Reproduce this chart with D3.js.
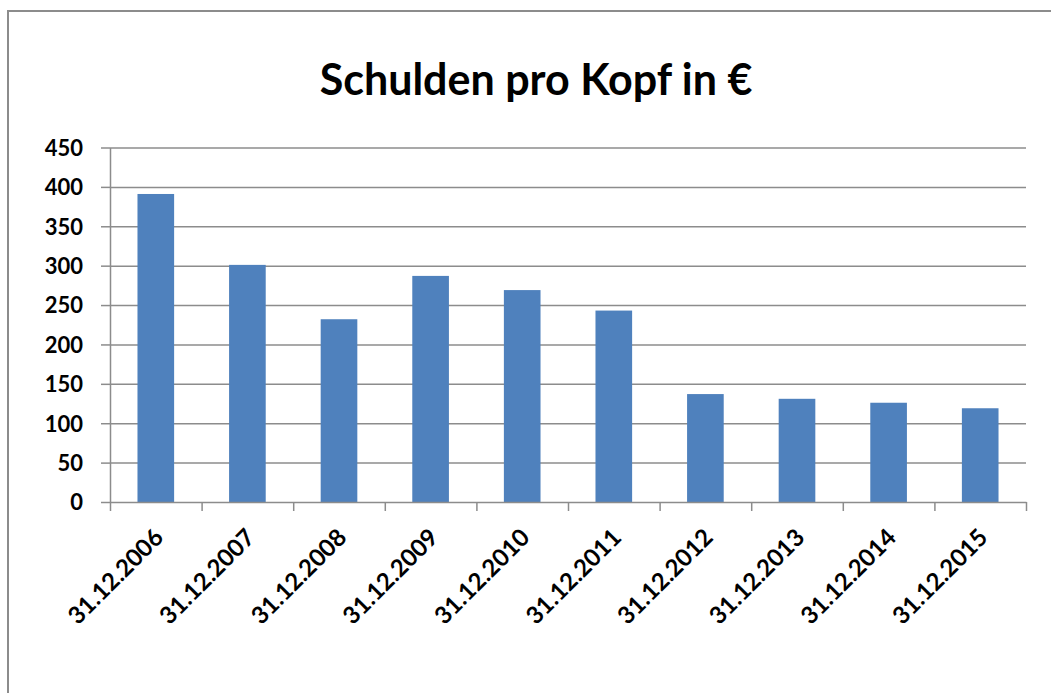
<!DOCTYPE html>
<html>
<head>
<meta charset="utf-8">
<script src="https://cdn.jsdelivr.net/npm/d3@7"></script>
<style>
  body { margin: 0; background: #fff; }
  svg { display: block; }
  .axis text { font-family: Lato, "Open Sans", sans-serif; font-weight: bold; font-size: 22px; fill: #000; }
  .axis .cat { font-size: 24px; }
  .axis path, .axis line { stroke: #8c8c8c; stroke-width: 1.5; }
  .grid line { stroke: #8c8c8c; stroke-width: 1.5; }
  .grid path { display: none; }
</style>
</head>
<body>
<script>
// data
const dates  = ["31.12.2006","31.12.2007","31.12.2008","31.12.2009","31.12.2010",
                "31.12.2011","31.12.2012","31.12.2013","31.12.2014","31.12.2015"];
const values = [391, 301, 232, 287, 269, 243, 137, 131, 126, 119];
const yTicks = [0, 50, 100, 150, 200, 250, 300, 350, 400, 450];
const title  = "Schulden pro Kopf in €";

const W = 1051, H = 693;
const margin = {left: 110, right: 25, top: 147.5, bottom: 191};
const width  = W - margin.left - margin.right;
const height = H - margin.top - margin.bottom;

const root = d3.select("body").append("svg")
    .attr("width", W)
    .attr("height", H);

// outer chart border (runs off the right and bottom edges)
root.append("rect")
    .attr("x", 8).attr("y", 11)
    .attr("width", 1100).attr("height", 800)
    .attr("fill", "#fff")
    .attr("stroke", "#8c8c8c")
    .attr("stroke-width", 2);

// title
root.append("text")
    .attr("x", 536).attr("y", 95)
    .attr("text-anchor", "middle")
    .style("font-family", "Lato, 'Open Sans', sans-serif")
    .style("font-weight", "bold")
    .style("font-size", "43px")
    .text(title);

const svg = root.append("g")
    .attr("transform", "translate(" + margin.left + "," + margin.top + ")");

// scales
const x = d3.scaleBand()
    .domain(dates)
    .range([0, width])
    .paddingInner(0.6)
    .paddingOuter(0.3);
const xEdges = d3.scaleLinear().domain([0, dates.length]).range([0, width]);
const y = d3.scaleLinear().domain([0, 450]).range([height, 0]);

// grid lines
svg.append("g").attr("class", "grid")
    .call(d3.axisLeft(y).tickValues(yTicks.slice(1)).tickFormat("").tickSize(-width));

// bars
svg.selectAll("rect.bar")
    .data(values)
    .enter().append("rect")
    .attr("class", "bar")
    .attr("x", (d, i) => x(dates[i]))
    .attr("y", d => y(d))
    .attr("width", x.bandwidth())
    .attr("height", d => height - y(d))
    .attr("fill", "#4f81bd");

// y axis
svg.append("g").attr("class", "y axis")
    .call(d3.axisLeft(y).tickValues(yTicks).tickSize(9).tickPadding(18).tickSizeOuter(0))
    .selectAll("text").attr("dy", "0.36em");

// x axis: ticks at category boundaries
svg.append("g").attr("class", "x axis")
    .attr("transform", "translate(0," + height + ")")
    .call(d3.axisBottom(xEdges).tickValues(d3.range(dates.length + 1)).tickFormat("").tickSize(9).tickSizeOuter(0));

// category labels
svg.append("g").attr("class", "x axis")
    .selectAll("text")
    .data(dates)
    .enter().append("text")
    .attr("class", "cat")
    .attr("transform", d => "translate(" + (x(d) + x.bandwidth() / 2 + 9) + "," + (height + 37) + ") rotate(-45)")
    .attr("text-anchor", "end")
    .text(d => d);
</script>
</body>
</html>
